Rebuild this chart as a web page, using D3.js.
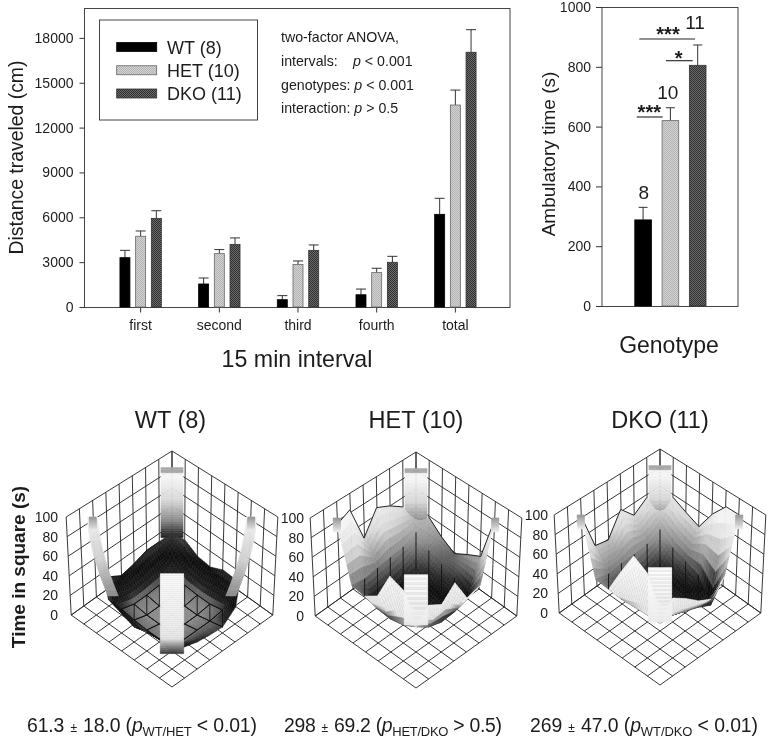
<!DOCTYPE html>
<html><head><meta charset="utf-8">
<script src="https://cdnjs.cloudflare.com/ajax/libs/d3/7.8.5/d3.min.js"></script>
<style>html,body{margin:0;padding:0;background:#fff}svg{display:block;font-family:"Liberation Sans",Arial,sans-serif;filter:blur(0.35px)}text{fill:#1c1c1c}</style>
</head><body><svg id="c" width="768" height="741"></svg>
<script>
// ---------- data ----------
const intervals = ["first","second","third","fourth","total"];
const genotypes = ["WT","HET","DKO"];
const legendLabels = ["WT (8)","HET (10)","DKO (11)"];
const distWT  = [3300,1540,490,820,6200];
const distHET = [4730,3570,2850,2300,13510];
const distDKO = [5930,4190,3790,2990,17040];
const distWTErr  = [3790,1940,760,1200,7270];
const distHETErr = [5085,3840,3080,2590,14510];
const distDKOErr = [6440,4620,4150,3390,18550];
const distTicks = [0,3000,6000,9000,12000,15000,18000];
const ambValues = [288,620,805];
const ambErr = [330,663,873];
const ambTicks = [0,200,400,600,800,1000];
const ambCounts = ["8","10","11"];
const zTicks = [0,20,40,60,80,100];
const heightsWT = [
 [ 30, 30, 30, 25, 22, 30,100],
 [ 32,  8,  3,  2,  2,  6, 25],
 [ 24,  3,  0,  0,  0,  4, 20],
 [ 22,  2,  0,  0,  0,  3, 15],
 [ 28,  2,  0,  0,  0,  3, 19],
 [ 27,  5,  3,  3,  3,  5, 20],
 [100, 17,  6,  7,  9, 13, 15]];
const heightsHET = [
 [ 40, 68, 78, 85, 62,100, 93],
 [ 57, 50, 44, 42, 40, 38, 40],
 [ 45, 40, 28, 20, 18, 16, 38],
 [ 37, 35, 20, 12, 12, 15, 47],
 [ 45, 30, 18, 10, 12, 18, 75],
 [ 52, 17, 13, 12, 16, 25, 70],
 [100, 40, 36, 60, 47, 55, 44]];
const heightsDKO = [
 [ 40, 75, 65, 80, 57, 60,100],
 [ 75, 50, 44, 42, 42, 40, 43],
 [ 68, 40, 25, 18, 20, 23, 42],
 [ 62, 35, 18, 10, 12, 24, 68],
 [ 84, 30, 15,  8, 12, 25, 92],
 [100,  8, 15, 20, 25, 25, 84],
 [100, 46, 32, 39, 50, 59, 44]];
const backPillars = [[100,25],[100,40],[100,40]];
const frontPillars = [[93,15],[93,44],[97,44]];
const sidePillarBase = [32,0,0];
const surfaceTitles = ["WT (8)","HET (10)","DKO (11)"];

// ---------- helpers ----------
const svg = d3.select("#c");
const defs = svg.append("defs");
function dither(id,a,b){
  const p = defs.append("pattern").attr("id",id).attr("width",2).attr("height",2).attr("patternUnits","userSpaceOnUse");
  p.append("rect").attr("width",2).attr("height",2).attr("fill",a);
  p.append("rect").attr("width",1).attr("height",1).attr("fill",b);
  p.append("rect").attr("x",1).attr("y",1).attr("width",1).attr("height",1).attr("fill",b);
}
dither("dHET","#d2d2d2","#b4b4b4");
dither("dDKO","#6a6a6a","#303030");
const fills = {WT:"#000",HET:"url(#dHET)",DKO:"url(#dDKO)"};
const strokes = {WT:"#000",HET:"#666",DKO:"#333"};
const txt=(g,x,y,s,size,anchor)=>g.append("text").attr("x",x).attr("y",y).attr("font-size",size).attr("text-anchor",anchor||"start").text(s);
function styleAxis(a,size){
  a.selectAll("path").attr("stroke","#444");
  a.selectAll("line").attr("stroke","#333");
  a.selectAll("text").attr("font-size",size).attr("fill","#1c1c1c").attr("font-family",'"Liberation Sans",Arial,sans-serif');
}

// ---------- top-left bar chart ----------
(function(){
  const g = svg.append("g");
  const y = d3.scaleLinear().domain([0,20000]).range([307,8]);
  const x0 = d3.scaleBand().domain(intervals).range([101.3,494.7]);
  const x1 = d3.scaleBand().domain(genotypes).range([-20.7,20.7]).paddingInner(0.363).paddingOuter(0);
  g.append("rect").attr("x",84.5).attr("y",8.5).attr("width",425.5).attr("height",299).attr("fill","none").attr("stroke","#444");
  const ax = g.append("g").attr("transform","translate(84.5,0)").call(d3.axisLeft(y).tickValues(distTicks).tickSize(5).tickPadding(6).tickFormat(d3.format("d")));
  styleAxis(ax,14); ax.select("path").remove();
  const bx = g.append("g").attr("transform","translate(0,307.5)").call(d3.axisBottom(x0).tickSize(5).tickPadding(8));
  styleAxis(bx,14); bx.select("path").remove();
  const vals = {WT:distWT,HET:distHET,DKO:distDKO}, errs={WT:distWTErr,HET:distHETErr,DKO:distDKOErr};
  genotypes.forEach(s=>{
    const gs = g.append("g");
    const cx = d=>x0(d)+x0.bandwidth()/2+x1(s);
    const bw = x1.bandwidth();
    gs.selectAll("line.e").data(intervals).join("line").attr("x1",d=>cx(d)+bw/2).attr("x2",d=>cx(d)+bw/2)
      .attr("y1",(d,i)=>y(vals[s][i])).attr("y2",(d,i)=>y(errs[s][i])).attr("stroke","#333");
    gs.selectAll("line.c").data(intervals).join("line").attr("x1",d=>cx(d)+bw/2-5).attr("x2",d=>cx(d)+bw/2+5)
      .attr("y1",(d,i)=>y(errs[s][i])).attr("y2",(d,i)=>y(errs[s][i])).attr("stroke","#333");
    gs.selectAll("rect").data(intervals).join("rect").attr("x",d=>cx(d)).attr("width",bw)
      .attr("y",(d,i)=>y(vals[s][i])).attr("height",(d,i)=>y(0)-y(vals[s][i]))
      .attr("fill",fills[s]).attr("stroke",strokes[s]).attr("stroke-width",0.8);
  });
  txt(g,0,0,"Distance traveled (cm)",19.4,"middle").attr("transform","translate(23,157.5) rotate(-90)");
  txt(g,297,367,"15 min interval",23.2,"middle");
  // legend
  g.append("rect").attr("x",99.5).attr("y",20).attr("width",158).attr("height",100).attr("fill","#fff").attr("stroke","#444");
  const ly = d3.scalePoint().domain(genotypes).range([47,93.5]);
  genotypes.forEach((s,i)=>{
    g.append("rect").attr("x",116.7).attr("y",ly(s)-4.5).attr("width",40).attr("height",9).attr("fill",fills[s]).attr("stroke",strokes[s]).attr("stroke-width",0.8);
    txt(g,167,ly(s)+6.5,legendLabels[i],18);
  });
  // annotation
  const fs=14.2;
  txt(g,281,42,"two-factor ANOVA,",fs);
  txt(g,281,66,"intervals:",fs);
  const t1=txt(g,353,66,"",fs); t1.append("tspan").attr("font-style","italic").text("p"); t1.append("tspan").text(" < 0.001");
  const t2=txt(g,281,90,"genotypes: ",fs); t2.append("tspan").attr("font-style","italic").text("p"); t2.append("tspan").text(" < 0.001");
  const t3=txt(g,281,113,"interaction: ",fs); t3.append("tspan").attr("font-style","italic").text("p"); t3.append("tspan").text(" > 0.5");
})();

// ---------- top-right bar chart ----------
(function(){
  const g = svg.append("g");
  const y = d3.scaleLinear().domain([0,1000]).range([306,7]);
  const x = d3.scaleBand().domain(genotypes).range([629.6,711.2]).paddingInner(0.39).paddingOuter(0.19);
  g.append("rect").attr("x",602).attr("y",7.5).attr("width",136).attr("height",299).attr("fill","none").attr("stroke","#444");
  const ax = g.append("g").attr("transform","translate(602,0)").call(d3.axisLeft(y).tickValues(ambTicks).tickSize(6).tickPadding(5).tickFormat(d3.format("d")));
  styleAxis(ax,14); ax.select("path").remove();
  const bw=x.bandwidth();
  genotypes.forEach((s,i)=>{
    const c=x(s)+bw/2;
    g.append("line").attr("x1",c).attr("x2",c).attr("y1",y(ambValues[i])).attr("y2",y(ambErr[i])).attr("stroke","#333");
    g.append("line").attr("x1",c-4.5).attr("x2",c+4.5).attr("y1",y(ambErr[i])).attr("y2",y(ambErr[i])).attr("stroke","#333");
    g.append("rect").attr("x",x(s)).attr("width",bw).attr("y",y(ambValues[i])).attr("height",y(0)-y(ambValues[i]))
      .attr("fill",fills[s]).attr("stroke",strokes[s]).attr("stroke-width",0.8);
  });
  txt(g,643.7,199,ambCounts[0],19,"middle");
  txt(g,667.7,99,ambCounts[1],19,"middle");
  txt(g,695,29,ambCounts[2],19,"middle");
  const bar=(a,b,yy)=>g.append("line").attr("x1",a).attr("x2",b).attr("y1",yy).attr("y2",yy).attr("stroke","#222").attr("stroke-width",1.1);
  bar(639.3,695,39); bar(666,692.7,60.7); bar(636.7,662.7,117);
  txt(g,668,40.5,"***",20,"middle").attr("font-weight","bold");
  txt(g,678.7,65,"*",20,"middle").attr("font-weight","bold");
  txt(g,649.3,119,"***",20,"middle").attr("font-weight","bold");
  txt(g,0,0,"Ambulatory time (s)",19,"middle").attr("transform","translate(555,154) rotate(-90)");
  txt(g,669,352.5,"Genotype",23,"middle");
})();

// ---------- surfaces ----------
const frontShade = d3.scaleLinear().domain([0,3,8,20,28,44,65,90,100])
  .range(["#8a8a8a","#707070","#222","#0e0e0e","#2a2a2a","#8c8c8c","#d8d8d8","#f5f5f5","#eee"]).clamp(true);
const backShade = d3.scaleLinear().domain([0,15,22,30,100])
  .range(["#222","#333","#888","#e8e8e8","#fff"]).clamp(true);
const sideShade = d3.scaleLinear().domain([30,60,100]).range(["#8a8a8a","#d0d0d0","#f4f4f4"]).clamp(true);

function drawSurface(cx,cy,labelX,heights,back,front,sideBase){
  const g = svg.append("g");
  const a=12.6,b=9;
  const sx=d3.scaleLinear().domain([-8,8]).range([cx-8*a,cx+8*a]);
  const sy=d3.scaleLinear().domain([0,16]).range([cy,cy+16*b]);
  const sh=d3.scaleLinear().domain([0,16]).range([92,104]);
  const P=(i,j,z)=>{const x0=sx(i-j),y0=sy(i+j);return [x0+(x0-cx)*z/100*0.05,y0-z/100*sh(i+j)];};
  const line=d3.line();
  const grid=d3.range(0,9);
  const lines=g.append("g").attr("fill","none").attr("stroke","#222").attr("stroke-width",0.9);
  const seg=(A,B)=>lines.append("path").attr("d",line([A,B]));
  grid.forEach(k=>{
    seg(P(k,0,0),P(k,8,0)); seg(P(0,k,0),P(8,k,0));            // floor
    seg(P(0,k,0),P(0,k,100)); seg(P(k,0,0),P(k,0,100));        // wall verticals
  });
  zTicks.forEach(z=>{ seg(P(0,0,z),P(0,8,z)); seg(P(0,0,z),P(8,0,z)); });
  zTicks.forEach(z=>{
    const p=P(0,8,z);
    txt(g,labelX,p[1]+5,String(z),14,"end");
  });
  const items=[];
  const n=6;
  const H=(i,j)=>heights[i-1][j-1];
  const Z=(i,j,u,v)=>d3.interpolate(d3.interpolate(H(i,j),H(i+1,j))(u),d3.interpolate(H(i,j+1),H(i+1,j+1))(u))(v);
  const area=q=>{let s=0;q.forEach((p,k)=>{const r=q[(k+1)%q.length];s+=p[0]*r[1]-r[0]*p[1];});return s/2;};
  const rib=(i,j,top,base,shade,depth,w,cap)=>{
    const m=40;
    d3.range(m).forEach(k=>{
      const z0=base+(top-base)*k/m, z1=base+(top-base)*(k+1)/m;
      const A=P(i,j,z0),B=P(i,j,z1);
      const zm=(z0+z1)/2;
      items.push({d:depth,pts:[[A[0]-w,A[1]],[A[0]+w,A[1]],[B[0]+w,B[1]],[B[0]-w,B[1]]],
        fill:zm>top-cap?"#a8a8a8":shade(zm)});
    });
  };
  rib(1,1,back[0],back[1],frontShade,1.9,a*0.88,5);
  d3.range(1,7).forEach(i=>d3.range(1,7).forEach(j=>{
    d3.range(n).forEach(us=>d3.range(n).forEach(vs=>{
      const u=us/n,v=vs/n,u2=(us+1)/n,v2=(vs+1)/n;
      const pt=(uu,vv)=>P(i+uu,j+vv,Z(i,j,uu,vv));
      const q=[pt(u,v),pt(u2,v),pt(u2,v2),pt(u,v2)];
      const zm=Z(i,j,(u+u2)/2,(v+v2)/2);
      items.push({d:i+j+u+v,pts:q,fill:area(q)>0?frontShade(zm):backShade(zm)});
    }));
    const c=[[i,j],[i+1,j],[i+1,j+1],[i,j+1]].map(([p,r])=>P(p,r,H(p,r)));
    const front=area(c)>0;
    const depth=i+j+1.99;
    if(H(i,j)<7&&H(i+1,j)<7) items.push({d:depth,line:[c[0],c[1]]});
    if(H(i,j)<7&&H(i,j+1)<7) items.push({d:depth,line:[c[0],c[3]]});
    if(H(i+1,j)<7&&H(i+1,j+1)<7) items.push({d:depth,line:[c[1],c[2]]});
    if(H(i,j+1)<7&&H(i+1,j+1)<7) items.push({d:depth,line:[c[3],c[2]]});
    if(front&&((i===2&&j>=2)||(j===2&&i>=2))&&i<7&&j<7) items.push({d:depth,line:[c[0],c[2]]});
  }));
  d3.range(2,7).forEach(k=>{
    items.push({d:2+k+0.5,line:[P(1,k,H(1,k)),P(1,k+1,H(1,k+1))]});
    if(H(1,2)>=40) items.push({d:2+k+0.5,line:[P(k,1,H(k,1)),P(k+1,1,H(k+1,1))]});
  });
  // side pillars: light ribbons that lean inward on their way down
  if(sideBase>0){
    const ribLean=(dir)=>{
      const m=40, bend=1.4;
      d3.range(m).forEach(k=>{
        const z0=sideBase+(100-sideBase)*k/m, z1=sideBase+(100-sideBase)*(k+1)/m;
        const off=z=>bend*Math.pow((100-z)/(100-sideBase),2);
        const A=dir<0?P(1+off(z0),7,z0):P(7,1+off(z0),z0);
        const B=dir<0?P(1+off(z1),7,z1):P(7,1+off(z1),z1);
        const w=5.2;
        items.push({d:9.9,pts:[[A[0]-w,A[1]],[A[0]+w,A[1]],[B[0]+w,B[1]],[B[0]-w,B[1]]],fill:sideShade((z0+z1)/2)});
      });
    };
    ribLean(-1); ribLean(1);
  }
  const capShade=v=>d3.interpolateRgb("#eee","#999")((v-86)/14);
  rib(1,7,100,86,capShade,9.95,3.6,0);
  rib(7,1,100,86,capShade,9.95,3.6,0);
  rib(7,7,front[0],front[1],backShade,20,a*0.93,0);
  items.sort((p,q)=>p.d-q.d);
  const sg=g.append("g");
  items.forEach(it=>{
    if(it.line) sg.append("path").attr("d",line(it.line)).attr("fill","none").attr("stroke","#111").attr("stroke-width",0.9);
    else sg.append("path").attr("d",line(it.pts)+"Z").attr("fill",it.fill).attr("stroke",it.fill).attr("stroke-width",0.5);
  });
}
drawSurface(172,543,58,heightsWT,backPillars[0],frontPillars[0],sidePillarBase[0]);
drawSurface(416,544,304,heightsHET,backPillars[1],frontPillars[1],sidePillarBase[1]);
drawSurface(660,541,548,heightsDKO,backPillars[2],frontPillars[2],sidePillarBase[2]);

[170.5,416,660].forEach((x,i)=>txt(svg,x,428,surfaceTitles[i],23.5,"middle"));
txt(svg,0,0,"Time in square (s)",19,"middle").attr("font-weight","bold").attr("transform","translate(25,567) rotate(-90)");

function stat(x,len,a,b,sub,c){
  const t=svg.append("text").attr("x",x).attr("y",732).attr("font-size",19.4).attr("textLength",len).attr("lengthAdjust","spacing");
  t.append("tspan").text(a);
  t.append("tspan").attr("font-size",12).attr("dx",3).text(" ± ");
  t.append("tspan").attr("dx",3).text(b+" (");
  t.append("tspan").attr("font-style","italic").text("p");
  t.append("tspan").attr("font-size",13).attr("dy",4).text(sub);
  t.append("tspan").attr("dy",-4).text(" "+c+")");
}
stat(27,230,"61.3","18.0","WT/HET","< 0.01");
stat(284,218,"298","69.2","HET/DKO","> 0.5");
stat(530,228,"269"," 47.0","WT/DKO","< 0.01");
</script></body></html>
